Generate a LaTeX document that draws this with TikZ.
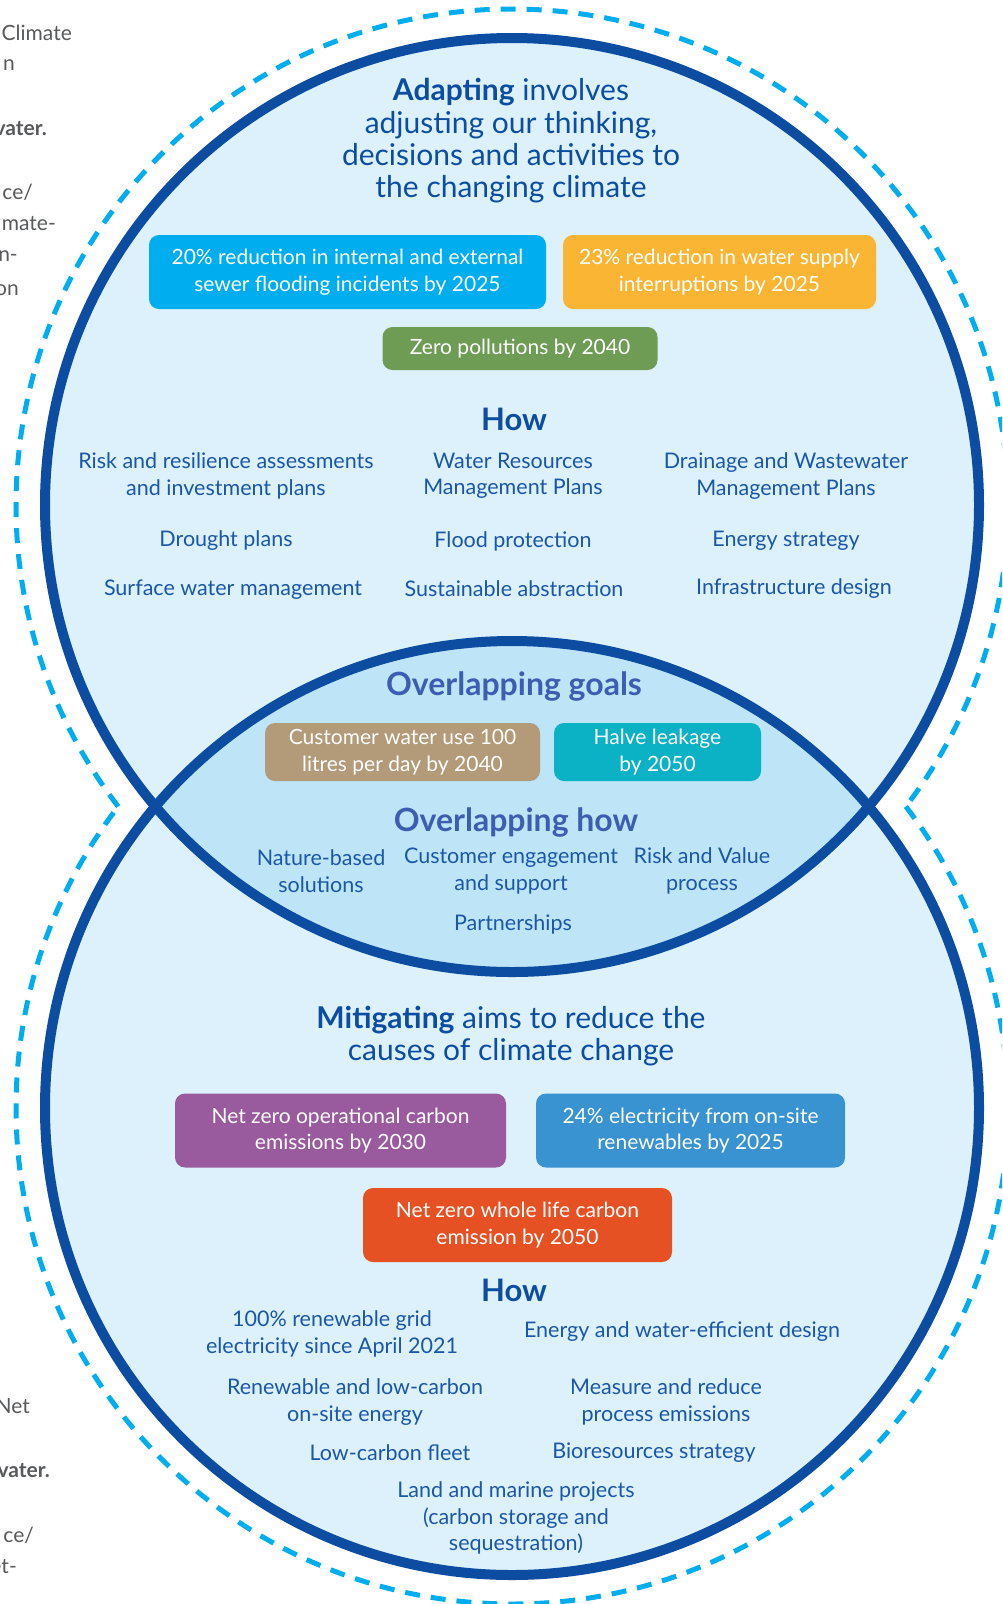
\documentclass[tikz,border=0pt]{standalone}
\usepackage{fontspec}
\setmainfont{Lato}
\definecolor{ringblue}{HTML}{0C4DA2}
\definecolor{dashblue}{HTML}{00AEEF}
\definecolor{circlefill}{HTML}{DCF1FC}
\definecolor{overlapfill}{HTML}{BEE4F7}
\definecolor{headblue}{HTML}{0C4DA2}
\definecolor{overblue}{HTML}{3D5DB3}
\definecolor{itemblue}{HTML}{1B57A8}
\definecolor{sidegray}{HTML}{58595B}
\definecolor{sewercyan}{HTML}{00AEEF}
\definecolor{supplyorange}{HTML}{FBB534}
\definecolor{pollgreen}{HTML}{6E9C54}
\definecolor{usetan}{HTML}{B39B7A}
\definecolor{leakteal}{HTML}{0BB1C4}
\definecolor{carbonpurple}{HTML}{9A5B9E}
\definecolor{renewblue}{HTML}{3893D0}
\definecolor{wholered}{HTML}{E65124}
\begin{document}
\begin{tikzpicture}[x=1pt, y=-1pt,
    every node/.style={font=\fontsize{21.5}{26.5}\selectfont, text=itemblue, align=center, inner sep=0pt},
    heading/.style={font=\fontsize{30}{32.3}\selectfont, text=headblue},
    howtitle/.style={font=\fontsize{31}{32}\selectfont\bfseries, text=headblue},
    overtitle/.style={font=\fontsize{32}{32}\selectfont\bfseries, text=overblue},
    goalbox/.style={rounded corners=10pt, text=white, minimum height=#1,
      font=\fontsize{21}{26.5}\selectfont},
    goalbox/.default=74pt,
    sidetext/.style={font=\fontsize{21}{26}\selectfont, text=sidegray, anchor=east},
    ring/.style={draw=ringblue, line width=10pt},
    dashring/.style={draw=dashblue, line width=5pt, dash pattern=on 15pt off 11pt}]
  \useasboundingbox (0,0) rectangle (1002,1604);
  \clip (0,0) rectangle (1002,1604);

  % --- circles ---------------------------------------------------------
  \coordinate (adapt) at (512,505);
  \coordinate (mitig) at (512,1108);
  \fill[circlefill] (adapt) circle (467);
  \fill[circlefill] (mitig) circle (467);
  \begin{scope}
    \clip (adapt) circle (467);
    \fill[overlapfill] (mitig) circle (467);
  \end{scope}
  \draw[ring] (adapt) circle (467);
  \draw[ring] (mitig) circle (467);

  % Dashed outline round both circles
  \draw[dashring] (adapt) ++(142.56:496) arc[start angle=142.56, end angle=397.44, radius=496];
  \draw[dashring] (mitig) ++(-37.44:496) arc[start angle=-37.44, end angle=217.44, radius=496];

  % --- text of the next column, cut at the edge ------------------------
  \node[sidetext] (s1) at (72,33) {Climate};
  \node[sidetext] (s2) at (15,65) {n};
  \node[sidetext, font=\fontsize{21}{26}\selectfont\bfseries] (s3) at (47,129) {vater.};
  \node[sidetext] (s4) at (33,192) {ce/};
  \node[sidetext] (s5) at (56,224) {mate-};
  \node[sidetext] (s6) at (18,256) {n-};
  \node[sidetext] (s7) at (19,290) {on};
  \node[sidetext] (s8) at (30,1406) {Net};
  \node[sidetext, font=\fontsize{21}{26}\selectfont\bfseries] (s9) at (50,1471) {vater.};
  \node[sidetext] (s10) at (34,1535) {ce/};
  \node[sidetext] (s11) at (17,1567) {et-};

  % --- adapting ---------------------------------------------------------
  \node[heading] (adapthead) at (511,141)
    {\textbf{Adapting} involves\\adjusting our thinking,\\decisions and activities to\\the changing climate};
  \node[goalbox, fill=sewercyan, minimum width=397pt] (sewer) at (347.5,272)
    {20\% reduction in internal and external\\sewer flooding incidents by 2025};
  \node[goalbox, fill=supplyorange, minimum width=313pt] (supply) at (719.5,272)
    {23\% reduction in water supply\\interruptions by 2025};
  \node[goalbox=43pt, fill=pollgreen, minimum width=275pt] (poll) at (520,348.5)
    {Zero pollutions by 2040};

  \node[howtitle] (adapthow) at (514,419) {How};
  \node (risk) at (226,476) {Risk and resilience assessments\\and investment plans};
  \node (wrmp) at (513,476) {Water Resources\\Management Plans};
  \node (dwmp) at (786,476) {Drainage and Wastewater\\Management Plans};
  \node (drought) at (226,541) {Drought plans};
  \node (flood) at (513,541) {Flood protection};
  \node (energy) at (786,541) {Energy strategy};
  \node (surface) at (233,590) {Surface water management};
  \node (abstract) at (514,589) {Sustainable abstraction};
  \node (infra) at (794,589) {Infrastructure design};

  % --- overlap ----------------------------------------------------------
  \node[overtitle] (overgoals) at (514,686) {Overlapping goals};
  \node[goalbox=58pt, fill=usetan, minimum width=275pt] (wateruse) at (402.5,752)
    {Customer water use 100\\litres per day by 2040};
  \node[goalbox=58pt, fill=leakteal, minimum width=207pt] (leakage) at (657.5,752)
    {Halve leakage\\by 2050};
  \node[overtitle] (overhow) at (516,822) {Overlapping how};
  \node (nature) at (321,871) {Nature-based\\solutions};
  \node (custeng) at (511,871) {Customer engagement\\and support};
  \node (riskvalue) at (702,871) {Risk and Value\\process};
  \node (partner) at (513,924) {Partnerships};

  % --- mitigating -------------------------------------------------------
  \node[heading] (mitighead) at (511,1036)
    {\textbf{Mitigating} aims to reduce the\\causes of climate change};
  \node[goalbox, fill=carbonpurple, minimum width=331pt] (opcarbon) at (340.5,1130.5)
    {Net zero operational carbon\\emissions by 2030};
  \node[goalbox, fill=renewblue, minimum width=309pt] (onsite) at (690.5,1130.5)
    {24\% electricity from on-site\\renewables by 2025};
  \node[goalbox, fill=wholered, minimum width=309pt] (wholelife) at (517.5,1225)
    {Net zero whole life carbon\\emission by 2050};

  \node[howtitle] (mitighow) at (514,1290) {How};
  \node (grid) at (332,1334) {100\% renewable grid\\electricity since April 2021};
  \node (efficient) at (682,1332) {Energy and water-efficient design};
  \node (lowcarbon) at (355,1402) {Renewable and low-carbon\\on-site energy};
  \node (measure) at (666,1402) {Measure and reduce\\process emissions};
  \node (fleet) at (390,1453) {Low-carbon fleet};
  \node (biores) at (654,1453) {Bioresources strategy};
  \node (landmarine) at (516,1518) {Land and marine projects\\(carbon storage and\\sequestration)};
\end{tikzpicture}
\end{document}
